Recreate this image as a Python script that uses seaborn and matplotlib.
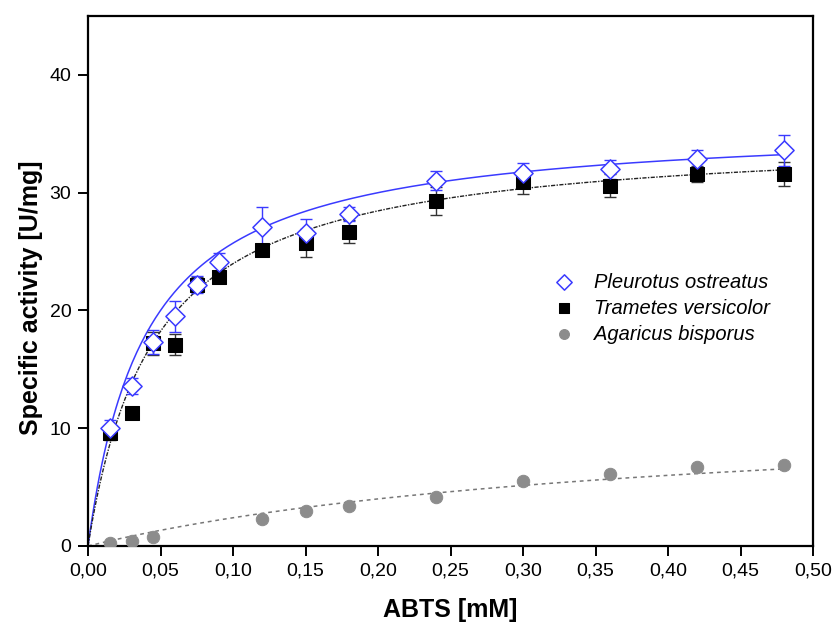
import numpy as np
import pandas as pd
import matplotlib
matplotlib.use("Agg")
import matplotlib.pyplot as plt
import seaborn as sns
from matplotlib.ticker import FuncFormatter, MultipleLocator

# ---- data ----
abts = [0.015, 0.03, 0.045, 0.06, 0.075, 0.09, 0.12, 0.15, 0.18, 0.24, 0.30, 0.36, 0.42, 0.48]
pleurotus = [10.0, 13.6, 17.3, 19.5, 22.2, 24.1, 27.1, 26.6, 28.2, 31.0, 31.7, 32.0, 32.9, 33.6]
pleurotus_err = [0.7, 0.7, 1.0, 1.3, 0.7, 0.8, 1.7, 1.2, 0.6, 0.8, 0.8, 0.8, 0.7, 1.3]
trametes = [9.6, 11.3, 17.2, 17.1, 22.2, 22.8, 25.1, 25.7, 26.7, 29.3, 30.9, 30.6, 31.6, 31.6]
trametes_err = [0.6, 0.3, 1.0, 0.9, 0.6, 0.5, 0.4, 1.2, 1.0, 1.2, 1.0, 1.0, 0.7, 1.0]
abts_agaricus = [0.015, 0.03, 0.045, 0.12, 0.15, 0.18, 0.24, 0.30, 0.36, 0.42, 0.48]
agaricus = [0.25, 0.4, 0.8, 2.3, 3.0, 3.4, 4.2, 5.5, 6.1, 6.7, 6.9]

# Michaelis-Menten fit parameters (estimated from the drawn curves)
fit_params = {
    "Pleurotus ostreatus": (36.0, 0.040),
    "Trametes versicolor": (35.0, 0.046),
    "Agaricus bisporus": (12.0, 0.40),
}

sns.set_style("ticks")
plt.rcParams["font.family"] = ["Liberation Sans", "DejaVu Sans"]
plt.rcParams["text.color"] = "black"
plt.rcParams["axes.labelcolor"] = "black"

fig = plt.figure(figsize=(8.35, 6.26), dpi=100)
ax = fig.add_axes([88/835, 1-546/626, (813-88)/835, (546-16)/626])

blue = "#3a3aff"
gray = "#8c8c8c"

xs = np.linspace(0, 0.48, 300)
fits = []
for name, (vm, km) in fit_params.items():
    fits.append(pd.DataFrame({"x": xs, "y": vm*xs/(km+xs), "s": name}))
fit_df = pd.concat(fits)

sns.lineplot(data=fit_df[fit_df.s == "Pleurotus ostreatus"], x="x", y="y", color=blue, lw=1.1, ax=ax, legend=False)
sns.lineplot(data=fit_df[fit_df.s == "Trametes versicolor"], x="x", y="y", color="#222222", lw=1.0,
             dashes=False, ax=ax, legend=False, linestyle=(0, (3, 1, 1, 1)))
sns.lineplot(data=fit_df[fit_df.s == "Agaricus bisporus"], x="x", y="y", color="#777777", lw=1.1,
             ax=ax, legend=False, linestyle=(0, (2.5, 2.5)))

ax.errorbar(abts, trametes, yerr=trametes_err, fmt="none", ecolor="#333333", elinewidth=1.0, capsize=4.3, capthick=1.0, zorder=3)
ax.errorbar(abts, pleurotus, yerr=pleurotus_err, fmt="none", ecolor=blue, elinewidth=1.0, capsize=4.3, capthick=1.0, zorder=4)

df_a = pd.DataFrame({"x": abts_agaricus, "y": agaricus})
df_t = pd.DataFrame({"x": abts, "y": trametes})
df_p = pd.DataFrame({"x": abts, "y": pleurotus})

sns.scatterplot(data=df_a, x="x", y="y", marker="o", s=80, color=gray, edgecolor=gray, ax=ax, zorder=5, label="Agaricus bisporus")
sns.scatterplot(data=df_t, x="x", y="y", marker="s", s=90, color="black", edgecolor="black", ax=ax, zorder=5, label="Trametes versicolor")
sns.scatterplot(data=df_p, x="x", y="y", marker="D", s=95, facecolor="white", edgecolor=blue, linewidth=1.1, ax=ax, zorder=6, label="Pleurotus ostreatus")

ax.set_xlim(0, 0.5)
ax.set_ylim(0, 45)
ax.xaxis.set_major_locator(MultipleLocator(0.05))
ax.yaxis.set_major_locator(MultipleLocator(10))
ax.xaxis.set_major_formatter(FuncFormatter(lambda v, p: f"{v:.2f}".replace(".", ",")))
ax.yaxis.set_major_formatter(FuncFormatter(lambda v, p: f"{v:.0f}"))

for sp in ax.spines.values():
    sp.set_visible(True)
    sp.set_linewidth(1.6)
    sp.set_color("black")
ax.tick_params(direction="out", length=7, width=1.4, labelsize=14, colors="black", pad=5)

ax.set_xlabel("ABTS [mM]", fontsize=18, fontweight="bold", labelpad=13)
ax.set_ylabel("Specific activity [U/mg]", fontsize=18, fontweight="bold")
ax.yaxis.set_label_coords(-45/725, (546-298)/530)

handles, labels = ax.get_legend_handles_labels()
order = [labels.index(n) for n in ["Pleurotus ostreatus", "Trametes versicolor", "Agaricus bisporus"]]
leg = ax.legend([handles[i] for i in order], [labels[i] for i in order],
                loc="upper left", bbox_to_anchor=(0.615, 0.535), frameon=False,
                prop={"style": "italic", "size": 14.5}, handletextpad=0.5, labelspacing=0.35,
                markerscale=0.8, borderpad=0)

fig.savefig("out.png", dpi=100)
